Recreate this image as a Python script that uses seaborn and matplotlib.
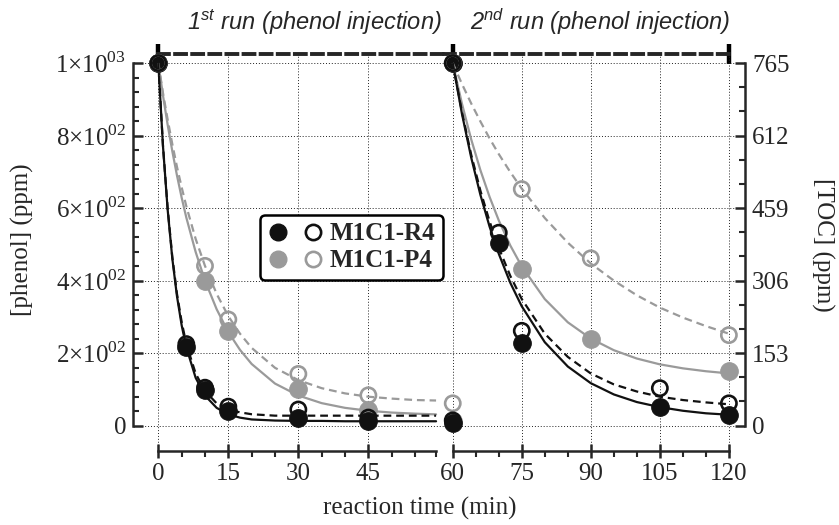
import matplotlib
matplotlib.use('Agg')
import matplotlib.pyplot as plt
import seaborn as sns
from matplotlib.lines import Line2D
from matplotlib.legend_handler import HandlerTuple
from matplotlib.ticker import FixedLocator

# ---- 1st run (phenol injected at t = 0) ----
# measured points: phenol in ppm, TOC in ppm
t1_r4 = [0, 6, 10, 15, 30, 45]
phenol1_r4 = [1000, 216, 97, 41, 20, 13]
toc1_r4 = [765, 172, 80, 40, 34, 17]
t1_p4 = [0, 10, 15, 30, 45]
phenol1_p4 = [1000, 400, 262, 100, 43]
toc1_p4 = [765, 337, 224, 109, 64]

# fitted curves
t1_fit = [0, 1, 2, 3, 4, 5, 6, 8, 10, 12.5, 15, 17.5, 20, 25, 30, 35, 40, 45, 50, 55, 59.5]
phenol1_r4_fit = [1000, 771, 596, 461, 357, 277, 216, 132, 83, 49, 31, 22, 17, 14, 13, 13, 12, 12, 12, 12, 12]
toc1_r4_fit = [765, 591, 459, 356, 278, 219, 172, 110, 73, 47, 34, 28, 24, 21, 21, 21, 21, 21, 21, 21, 21]
phenol1_p4_fit = [1000, 911, 830, 757, 690, 629, 574, 479, 400, 321, 258, 209, 170, 116, 83, 62, 49, 41, 36, 33, 31]
toc1_p4_fit = [765, 702, 646, 594, 546, 503, 463, 394, 337, 278, 231, 194, 164, 122, 96, 79, 68, 61, 57, 54, 53]

# ---- 2nd run (phenol injected again at t = 60) ----
t2_r4 = [60, 60, 70, 75, 105, 120]
phenol2_r4 = [8, 1000, 503, 229, 50, 28]
toc2_r4 = [11, 765, 407, 200, 79, 47]
t2_p4 = [60, 60, 75, 90, 120]
phenol2_p4 = [12, 1000, 431, 240, 151]
toc2_p4 = [47, 765, 499, 353, 191]

t2_fit = [60, 62, 64, 66, 68, 70, 72.5, 75, 80, 85, 90, 95, 100, 105, 110, 115, 120]
phenol2_r4_fit = [1000, 860, 740, 637, 549, 474, 394, 329, 230, 163, 117, 86, 65, 51, 41, 34, 30]
toc2_r4_fit = [765, 662, 572, 496, 431, 375, 316, 267, 194, 145, 110, 87, 72, 61, 54, 49, 45]
phenol2_p4_fit = [1000, 888, 790, 705, 631, 566, 497, 439, 349, 285, 240, 208, 185, 169, 158, 150, 144]
toc2_p4_fit = [765, 721, 680, 642, 606, 573, 535, 500, 438, 386, 342, 306, 275, 249, 228, 210, 194]

phenol_ticks = [0, 200, 400, 600, 800, 1000]
phenol_labels = ['0', r'$2{\times}10^{02}$', r'$4{\times}10^{02}$', r'$6{\times}10^{02}$',
                 r'$8{\times}10^{02}$', r'$1{\times}10^{03}$']
toc_ticks = [0, 153, 306, 459, 612, 765]

BLACK = '#111111'
GRAY = '#9a9a9a'
DASH = (0, (3.5, 2.2))

sns.set_style('ticks')
plt.rcParams['font.family'] = ['Liberation Serif', 'DejaVu Serif']
plt.rcParams['mathtext.fontset'] = 'custom'
plt.rcParams['mathtext.rm'] = 'Liberation Serif'
plt.rcParams['mathtext.it'] = 'Liberation Sans:italic'
plt.rcParams['mathtext.bf'] = 'Liberation Serif:bold'

fig = plt.figure(figsize=(8.39, 5.25), dpi=100)
ax1 = fig.add_axes([133 / 839, 74 / 525, 311 / 839, 397 / 525])
ax2 = fig.add_axes([444 / 839, 74 / 525, 301 / 839, 397 / 525])
tw1 = ax1.twinx()
tw2 = ax2.twinx()

ax1.set_xlim(-5.42, 61.2)
ax2.set_xlim(58.1, 123.5)
for ax in (ax1, ax2):
    ax.set_ylim(-70, 1025)
for tw in (tw1, tw2):
    tw.set_ylim(-70 * 0.765, 1025 * 0.765)


def draw(ax, tw, t_fit, ph_fit, toc_fit, t_pts, ph, toc, color):
    sns.lineplot(x=t_fit, y=ph_fit, ax=ax, color=color, lw=1.6, sort=False, estimator=None)
    sns.lineplot(x=t_fit, y=toc_fit, ax=tw, color=color, lw=1.6, linestyle=DASH,
                 sort=False, estimator=None)
    sns.scatterplot(x=t_pts, y=toc, ax=tw, marker='o', s=120, color='none',
                    edgecolor=color, linewidth=1.9, zorder=4, clip_on=False)
    sns.scatterplot(x=t_pts, y=ph, ax=ax, marker='o', s=160, color=color,
                    edgecolor=color, linewidth=0.8, zorder=5, clip_on=False)


draw(ax1, tw1, t1_fit, phenol1_p4_fit, toc1_p4_fit, t1_p4, phenol1_p4, toc1_p4, GRAY)
draw(ax1, tw1, t1_fit, phenol1_r4_fit, toc1_r4_fit, t1_r4, phenol1_r4, toc1_r4, BLACK)
draw(ax2, tw2, t2_fit, phenol2_p4_fit, toc2_p4_fit, t2_p4, phenol2_p4, toc2_p4, GRAY)
draw(ax2, tw2, t2_fit, phenol2_r4_fit, toc2_r4_fit, t2_r4, phenol2_r4, toc2_r4, BLACK)

# axes cosmetics
for ax in (ax1, ax2):
    ax.set_xlabel('')
    ax.set_ylabel('')
    ax.spines['right'].set_visible(False)
    ax.spines['top'].set_linestyle((0, (2.8, 1.6)))
    ax.spines['top'].set_linewidth(2.8)
    ax.spines['bottom'].set_linewidth(1.8)
    ax.set_yticks(phenol_ticks, phenol_labels)
    ax.grid(True, which='major', color='#222222', ls=(0, (1, 2)), lw=0.7)
    ax.tick_params(axis='x', which='major', direction='inout', length=10, width=1.8,
                   labelsize=18, pad=4)
    ax.tick_params(axis='x', which='minor', direction='out', length=4, width=1.5)

ax1.spines['left'].set_bounds(0, 1000)
ax1.spines['left'].set_linewidth(1.8)
ax1.spines['bottom'].set_bounds(0, 59.5)
ax1.spines['top'].set_bounds(0, 61.2)
ax1.set_xticks([0, 15, 30, 45])
ax1.xaxis.set_minor_locator(FixedLocator([5, 10, 20, 25, 35, 40, 50, 55, 59.5]))
ax1.yaxis.set_minor_locator(FixedLocator([v for v in range(0, 1001, 40) if v % 200]))
ax1.tick_params(axis='y', which='major', direction='in', length=7, width=1.8, labelsize=18, pad=5)
ax1.tick_params(axis='y', which='minor', direction='in', length=4, width=1.5)

ax2.spines['left'].set_visible(False)
ax2.spines['bottom'].set_bounds(60, 120)
ax2.spines['top'].set_bounds(58.1, 120)
ax2.set_xticks([60, 75, 90, 105, 120])
ax2.xaxis.set_minor_locator(FixedLocator([65, 70, 80, 85, 95, 100, 110, 115]))
ax2.tick_params(axis='y', which='both', left=False, labelleft=False)

for sp in tw1.spines.values():
    sp.set_visible(False)
tw1.set_yticks([])
tw1.set_ylabel('')
for name in ('left', 'top', 'bottom'):
    tw2.spines[name].set_visible(False)
tw2.spines['right'].set_bounds(0, 765)
tw2.spines['right'].set_linewidth(1.8)
tw2.set_yticks(toc_ticks)
tw2.yaxis.set_minor_locator(FixedLocator([v for v in range(0, 766, 51) if v % 153]))
tw2.tick_params(axis='y', which='major', direction='in', length=7, width=1.8, labelsize=18, pad=5)
tw2.tick_params(axis='y', which='minor', direction='in', length=4, width=1.5)
tw2.set_ylabel('')

# injection markers on the top line
sec1 = ax1.secondary_xaxis('top')
sec1.set_xticks([0], [''])
sec2 = ax2.secondary_xaxis('top')
sec2.set_xticks([60, 120], ['', ''])
for sec in (sec1, sec2):
    sec.spines['top'].set_visible(False)
    sec.tick_params(direction='inout', length=15, width=3.2, color='k')

# texts
fig.text(420 / 839, 1 - 508 / 525, 'reaction time (min)', ha='center', va='center', fontsize=18)
fig.text(22 / 839, 1 - 240 / 525, '[phenol] (ppm)', ha='center', va='center', rotation=90, fontsize=18)
fig.text(823 / 839, 1 - 245 / 525, '[TOC] (ppm)', ha='center', va='center', rotation=270, fontsize=18)
fig.text(314 / 839, 1 - 22 / 525, r'1$^{st}$ run (phenol injection)', ha='center', va='center',
         fontsize=17, fontstyle='italic', family='Liberation Sans')
fig.text(600 / 839, 1 - 22 / 525, r'2$^{nd}$ run (phenol injection)', ha='center', va='center',
         fontsize=17, fontstyle='italic', family='Liberation Sans')

# legend
f_r4 = Line2D([], [], ls='none', marker='o', ms=12, mfc=BLACK, mec=BLACK)
o_r4 = Line2D([], [], ls='none', marker='o', ms=11, mfc='none', mec=BLACK, mew=1.9)
f_p4 = Line2D([], [], ls='none', marker='o', ms=12, mfc=GRAY, mec=GRAY)
o_p4 = Line2D([], [], ls='none', marker='o', ms=11, mfc='none', mec=GRAY, mew=1.9)
leg = fig.legend(handles=[(f_r4, o_r4), (f_p4, o_p4)], labels=['M1C1-R4', 'M1C1-P4'],
                 handler_map={tuple: HandlerTuple(ndivide=None, pad=0.6)},
                 loc='upper left', bbox_to_anchor=(260 / 839, 1 - 215 / 525),
                 prop={'family': 'Liberation Serif', 'weight': 'bold', 'size': 18},
                 frameon=True, fancybox=True, edgecolor='k', framealpha=1,
                 handlelength=2.2, handletextpad=0.3, borderpad=0.3, labelspacing=0.15,
                 borderaxespad=0)
leg.get_frame().set_linewidth(1.8)

fig.savefig('out.png', dpi=100)
